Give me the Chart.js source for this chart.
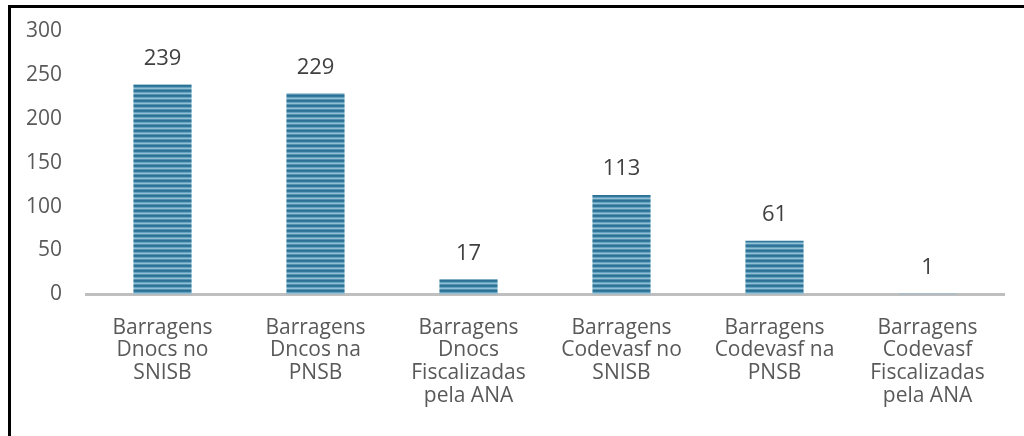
<!DOCTYPE html>
<html>
<head>
<meta charset="utf-8">
<script src="https://cdn.jsdelivr.net/npm/chart.js@4.4.1/dist/chart.umd.min.js"></script>
<style>
  html, body { margin: 0; padding: 0; background: #ffffff; }
  #wrap { position: relative; width: 1024px; height: 436px; overflow: hidden; }
  #frame { position: absolute; left: 8px; top: 5px; width: 1030px; height: 440px;
           border-top: 3px solid #000; border-left: 3px solid #000; box-sizing: border-box; }
  #c { position: absolute; left: 0; top: 0; }
</style>
</head>
<body>
<div id="wrap">
  <div id="frame"></div>
  <canvas id="c" width="1024" height="436"></canvas>
</div>
<script>
const categories = [
  ["Barragens", "Dnocs no", "SNISB"],
  ["Barragens", "Dncos na", "PNSB"],
  ["Barragens", "Dnocs", "Fiscalizadas", "pela ANA"],
  ["Barragens", "Codevasf no", "SNISB"],
  ["Barragens", "Codevasf na", "PNSB"],
  ["Barragens", "Codevasf", "Fiscalizadas", "pela ANA"]
];
const values = [239, 229, 17, 113, 61, 1];
const yTicks = [0, 50, 100, 150, 200, 250, 300];

function makePattern() {
  const p = document.createElement('canvas');
  p.width = 8; p.height = 5;
  const g = p.getContext('2d');
  const rows = ['#2b7095', '#34799c', '#64a2bf', '#93bfd4', '#5393b1'];
  rows.forEach((col, i) => { g.fillStyle = col; g.fillRect(0, i, 8, 1); });
  return g.canvas;
}

const valueLabels = {
  id: 'valueLabels',
  afterDatasetsDraw(chart) {
    const ctx = chart.ctx;
    const meta = chart.getDatasetMeta(0);
    ctx.save();
    ctx.font = '22px "Open Sans", sans-serif';
    ctx.fillStyle = '#404040';
    ctx.textAlign = 'center';
    ctx.textBaseline = 'middle';
    meta.data.forEach((bar, i) => {
      ctx.fillText(String(values[i]), bar.x, bar.y - 26);
    });
    ctx.restore();
  }
};

const ctx = document.getElementById('c').getContext('2d');
const pattern = ctx.createPattern(makePattern(), 'repeat');

new Chart(ctx, {
  type: 'bar',
  data: {
    labels: categories,
    datasets: [{
      data: values,
      backgroundColor: pattern,
      borderWidth: 0,
      barPercentage: 0.76,
      categoryPercentage: 0.5
    }]
  },
  options: {
    responsive: false,
    animation: false,
    layout: { padding: { left: 0, right: 20, top: 31, bottom: 7 } },
    plugins: { legend: { display: false }, tooltip: { enabled: false } },
    scales: {
      x: {
        grid: { display: false, drawTicks: false },
        border: { display: true, color: '#bfbfbf', width: 3 },
        ticks: {
          color: '#595959',
          font: { family: '"Open Sans", sans-serif', size: 21, lineHeight: 1.08 },
          padding: 22,
          maxRotation: 0,
          autoSkip: false
        }
      },
      y: {
        min: 0, max: 300,
        afterFit(scale) { scale.width = 86; scale.paddingTop = 0; scale.paddingBottom = 0; },
        afterBuildTicks(scale) { scale.ticks = yTicks.map(v => ({ value: v })); },
        grid: { display: false, drawTicks: false },
        border: { display: false },
        ticks: {
          color: '#595959',
          font: { family: '"Open Sans", sans-serif', size: 21 },
          padding: 24
        }
      }
    }
  },
  plugins: [valueLabels]
});
</script>
</body>
</html>
